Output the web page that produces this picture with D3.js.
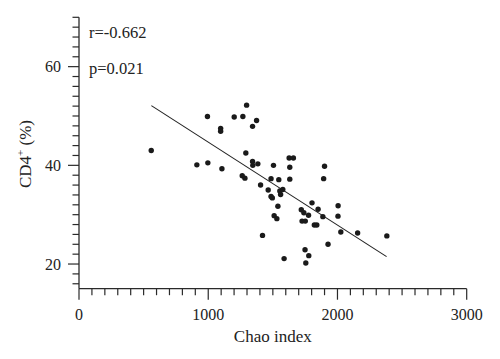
<!DOCTYPE html>
<html>
<head>
<meta charset="utf-8">
<script src="https://cdn.jsdelivr.net/npm/d3@7"></script>
<style>
  html, body { margin: 0; padding: 0; background: #fff; }
  svg text { font-family: "Liberation Serif", "Times New Roman", serif; fill: #222; }
</style>
</head>
<body>
<svg id="chart" width="500" height="359"></svg>
<script>
// Data
const chaoIndex = [559, 912, 997, 1106, 994, 1096, 1096, 1201, 1268, 1297, 1291, 1263, 1284, 1374, 1343,
  1343, 1384, 1345, 1505, 1626, 1659, 1631, 1900, 1486, 1546, 1631, 1893, 1405, 1464, 1486, 1496,
  1554, 1577, 1560, 1539, 1510, 1531, 1420, 1587, 1720, 1740, 1776, 1726, 1751, 1803, 1850, 1887,
  1821, 1840, 2005, 2004, 2026, 2156, 2382, 1927, 1749, 1778, 1755];
const cd4 = [43.0, 40.1, 40.5, 39.3, 49.9, 47.5, 46.9, 49.8, 49.9, 52.2, 42.5, 37.9, 37.4, 49.1, 47.9,
  40.8, 40.3, 40.0, 40.0, 41.5, 41.5, 39.6, 39.8, 37.3, 37.1, 37.2, 37.3, 36.0, 35.0, 33.7, 33.4,
  34.8, 35.1, 34.1, 31.7, 29.8, 29.2, 25.8, 21.1, 31.0, 30.4, 29.9, 28.7, 28.7, 32.4, 31.1, 29.6,
  27.9, 27.9, 31.8, 29.7, 26.5, 26.3, 25.7, 24.0, 22.9, 21.7, 20.2];
const fitX = [560, 2380];
const fitY = [52.1, 21.5];
const xTicks = [0, 1000, 2000, 3000];
const yTicks = [20, 40, 60];
const statsText = ["r=-0.662", "p=0.021"];

const svg = d3.select("#chart");
const x = d3.scaleLinear().domain([0, 3000]).range([79, 466.7]);
const y = d3.scaleLinear().domain([15, 70]).range([288.7, 17.3]);
const ink = "#2a2a2a";

// X axis
const xMinor = d3.range(0, 3001, 100);
const gx = svg.append("g");
gx.append("line").attr("x1", x(0)).attr("x2", x(3000)).attr("y1", y(15)).attr("y2", y(15))
  .attr("stroke", ink).attr("stroke-width", 1.3);
gx.selectAll("line.t").data(xMinor).join("line").attr("class", "t")
  .attr("x1", d => x(d)).attr("x2", d => x(d))
  .attr("y1", y(15)).attr("y2", d => y(15) + (d % 1000 === 0 ? 11 : 6.5))
  .attr("stroke", ink).attr("stroke-width", 1.2);
gx.selectAll("text").data(xTicks).join("text")
  .attr("x", d => x(d)).attr("y", 319.5).attr("text-anchor", "middle")
  .attr("font-size", 16).text(d => d);

// Y axis
const yMinor = d3.range(16, 71, 2);
const gy = svg.append("g");
gy.append("line").attr("x1", x(0)).attr("x2", x(0)).attr("y1", y(15)).attr("y2", y(70))
  .attr("stroke", ink).attr("stroke-width", 1.3);
gy.selectAll("line.t").data(yMinor).join("line").attr("class", "t")
  .attr("y1", d => y(d)).attr("y2", d => y(d))
  .attr("x1", x(0)).attr("x2", d => x(0) - (d % 20 === 0 ? 11 : 6.5))
  .attr("stroke", ink).attr("stroke-width", 1.2);
gy.selectAll("text").data(yTicks).join("text")
  .attr("x", 61).attr("y", d => y(d) + 5.5).attr("text-anchor", "end")
  .attr("font-size", 16).text(d => d);

// Axis titles
svg.append("text").attr("x", 272.8).attr("y", 342).attr("text-anchor", "middle")
  .attr("font-size", 17).text("Chao index");
const yl = svg.append("text").attr("transform", "translate(31,154) rotate(-90)")
  .attr("text-anchor", "middle").attr("font-size", 17);
yl.append("tspan").text("CD4");
yl.append("tspan").attr("font-size", 11).attr("dy", -7).text("+");
yl.append("tspan").attr("dy", 7).text(" (%)");

// Fit line
svg.append("line")
  .attr("x1", x(fitX[0])).attr("y1", y(fitY[0]))
  .attr("x2", x(fitX[1])).attr("y2", y(fitY[1]))
  .attr("stroke", "#222").attr("stroke-width", 1.1);

// Points
svg.append("g").selectAll("circle").data(chaoIndex.map((c, i) => [c, cd4[i]])).join("circle")
  .attr("cx", d => x(d[0])).attr("cy", d => y(d[1])).attr("r", 2.7).attr("fill", "#1a1a1a");

// Stats
svg.selectAll("text.stat").data(statsText).join("text").attr("class", "stat")
  .attr("x", 89).attr("y", (d, i) => 37.5 + i * 36).attr("font-size", 16.5).text(d => d);
</script>
</body>
</html>
